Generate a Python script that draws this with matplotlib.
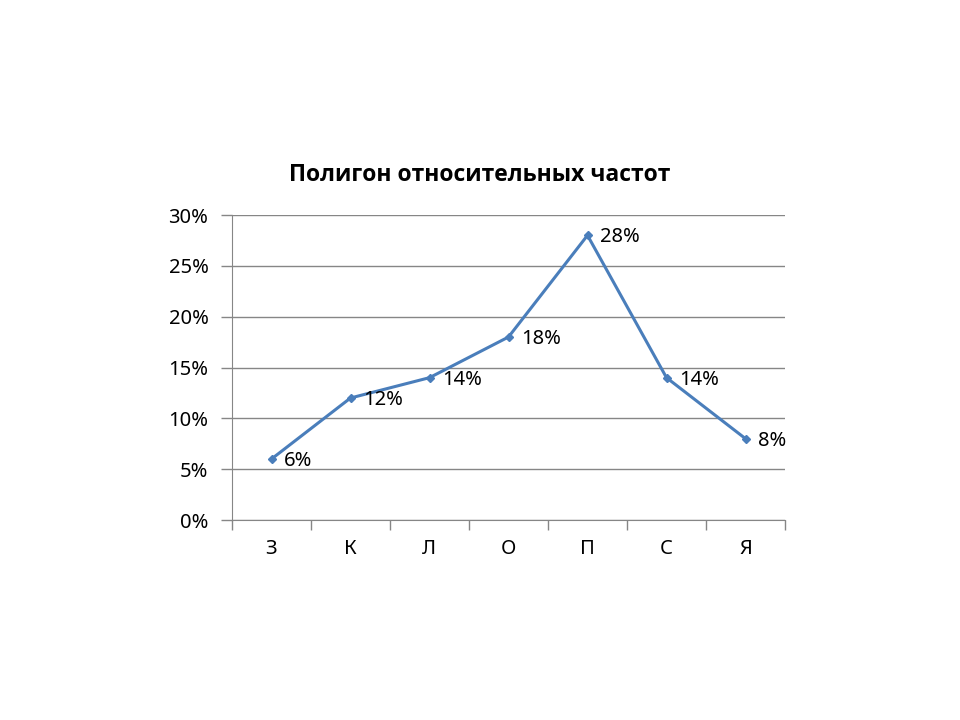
import matplotlib.pyplot as plt
from matplotlib.ticker import FuncFormatter, FixedLocator

plt.rcParams['font.family'] = ['Noto Sans', 'DejaVu Sans']

categories = ['З', 'К', 'Л', 'О', 'П', 'С', 'Я']
values = [6, 12, 14, 18, 28, 14, 8]
yticks = [0, 5, 10, 15, 20, 25, 30]

fig = plt.figure(figsize=(9.6, 7.2), dpi=100)
ax = fig.add_axes([232 / 960, 1 - 520 / 720, 553 / 960, 305 / 720])

x = list(range(len(categories)))
ax.plot(x, values, color='#4a7ebb', lw=2.2, marker='D', ms=4.5, zorder=3)

for xi, v in zip(x, values):
    ax.annotate(f'{v}%', (xi, v), xytext=(9, -1.5), textcoords='offset points',
                ha='left', va='center', fontsize=14.5)

ax.set_xlim(-0.5, len(categories) - 0.5)
ax.set_ylim(0, 30)
ax.set_yticks(yticks)
ax.yaxis.set_major_formatter(FuncFormatter(lambda v, p: f'{v:.0f}%'))
ax.grid(axis='y', color='#868686', lw=1)
ax.set_axisbelow(True)

# category labels centred, ticks at the boundaries
ax.set_xticks(x)
ax.set_xticklabels(categories, fontsize=14.5)
ax.tick_params(axis='x', length=0, pad=14)
ax.xaxis.set_minor_locator(FixedLocator([i - 0.5 for i in range(len(categories) + 1)]))
ax.tick_params(axis='x', which='minor', length=7, color='#868686', width=1)
ax.tick_params(axis='y', length=8, color='#868686', width=1, labelsize=14.5, pad=9)

for s in ['top', 'right']:
    ax.spines[s].set_visible(False)
for s in ['left', 'bottom']:
    ax.spines[s].set_color('#868686')

fig.text(480 / 960, 1 - 175 / 720, 'Полигон относительных частот',
         ha='center', va='center', fontsize=16.5, fontweight='bold',
         family=['Open Sans', 'DejaVu Sans'])

fig.savefig('out.png', dpi=100)
